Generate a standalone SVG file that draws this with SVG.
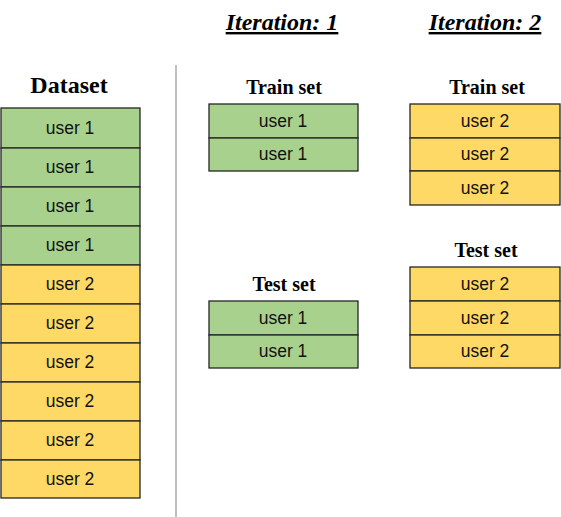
<svg xmlns="http://www.w3.org/2000/svg" width="561" height="517" viewBox="0 0 561 517">
<style>
.g{fill:#A9D18E;stroke:#262626;stroke-width:1.3}
.y{fill:#FFD966;stroke:#262626;stroke-width:1.3}
.c{font-family:"Liberation Sans",Arial,sans-serif;font-size:17.5px;fill:#111;text-anchor:middle}
.h{font-family:"Liberation Serif","Times New Roman",serif;font-weight:bold;text-anchor:middle;fill:#000}
</style>
<rect width="561" height="517" fill="#fff"/>
<g id="divider"><line x1="176" y1="65" x2="176" y2="517" stroke="#aaa" stroke-width="1.5"/></g>
<g id="titles">
<text class="h" x="282" y="30" font-size="24" font-style="italic" text-decoration="underline">Iteration: 1</text>
<text class="h" x="485" y="30" font-size="24" font-style="italic" text-decoration="underline">Iteration: 2</text>
</g>
<g id="dataset">
<text class="h" x="69" y="93" font-size="24">Dataset</text>
<rect class="g" x="1" y="108" width="139" height="40"/><text class="c" x="70" y="134">user 1</text>
<rect class="g" x="1" y="148" width="139" height="39"/><text class="c" x="70" y="173">user 1</text>
<rect class="g" x="1" y="187" width="139" height="39"/><text class="c" x="70" y="212">user 1</text>
<rect class="g" x="1" y="226" width="139" height="39"/><text class="c" x="70" y="251">user 1</text>
<rect class="y" x="1" y="265" width="139" height="39"/><text class="c" x="70" y="290">user 2</text>
<rect class="y" x="1" y="304" width="139" height="39"/><text class="c" x="70" y="329">user 2</text>
<rect class="y" x="1" y="343" width="139" height="39"/><text class="c" x="70" y="368">user 2</text>
<rect class="y" x="1" y="382" width="139" height="39"/><text class="c" x="70" y="407">user 2</text>
<rect class="y" x="1" y="421" width="139" height="39"/><text class="c" x="70" y="446">user 2</text>
<rect class="y" x="1" y="460" width="139" height="38"/><text class="c" x="70" y="485">user 2</text>
</g>
<g id="train1">
<text class="h" x="284" y="94" font-size="20">Train set</text>
<rect class="g" x="209" y="104" width="149" height="34"/><text class="c" x="283" y="127">user 1</text>
<rect class="g" x="209" y="138" width="149" height="33"/><text class="c" x="283" y="160">user 1</text>
</g>
<g id="test1">
<text class="h" x="284" y="291" font-size="20">Test set</text>
<rect class="g" x="209" y="301" width="149" height="34"/><text class="c" x="283" y="324">user 1</text>
<rect class="g" x="209" y="335" width="149" height="33"/><text class="c" x="283" y="357">user 1</text>
</g>
<g id="train2">
<text class="h" x="487" y="94" font-size="20">Train set</text>
<rect class="y" x="410" y="104" width="150" height="34"/><text class="c" x="485" y="127">user 2</text>
<rect class="y" x="410" y="138" width="150" height="33"/><text class="c" x="485" y="160">user 2</text>
<rect class="y" x="410" y="171" width="150" height="34"/><text class="c" x="485" y="194">user 2</text>
</g>
<g id="test2">
<text class="h" x="486" y="257" font-size="20">Test set</text>
<rect class="y" x="410" y="267" width="150" height="34"/><text class="c" x="485" y="290">user 2</text>
<rect class="y" x="410" y="301" width="150" height="34"/><text class="c" x="485" y="324">user 2</text>
<rect class="y" x="410" y="335" width="150" height="33"/><text class="c" x="485" y="357">user 2</text>
</g>
</svg>
